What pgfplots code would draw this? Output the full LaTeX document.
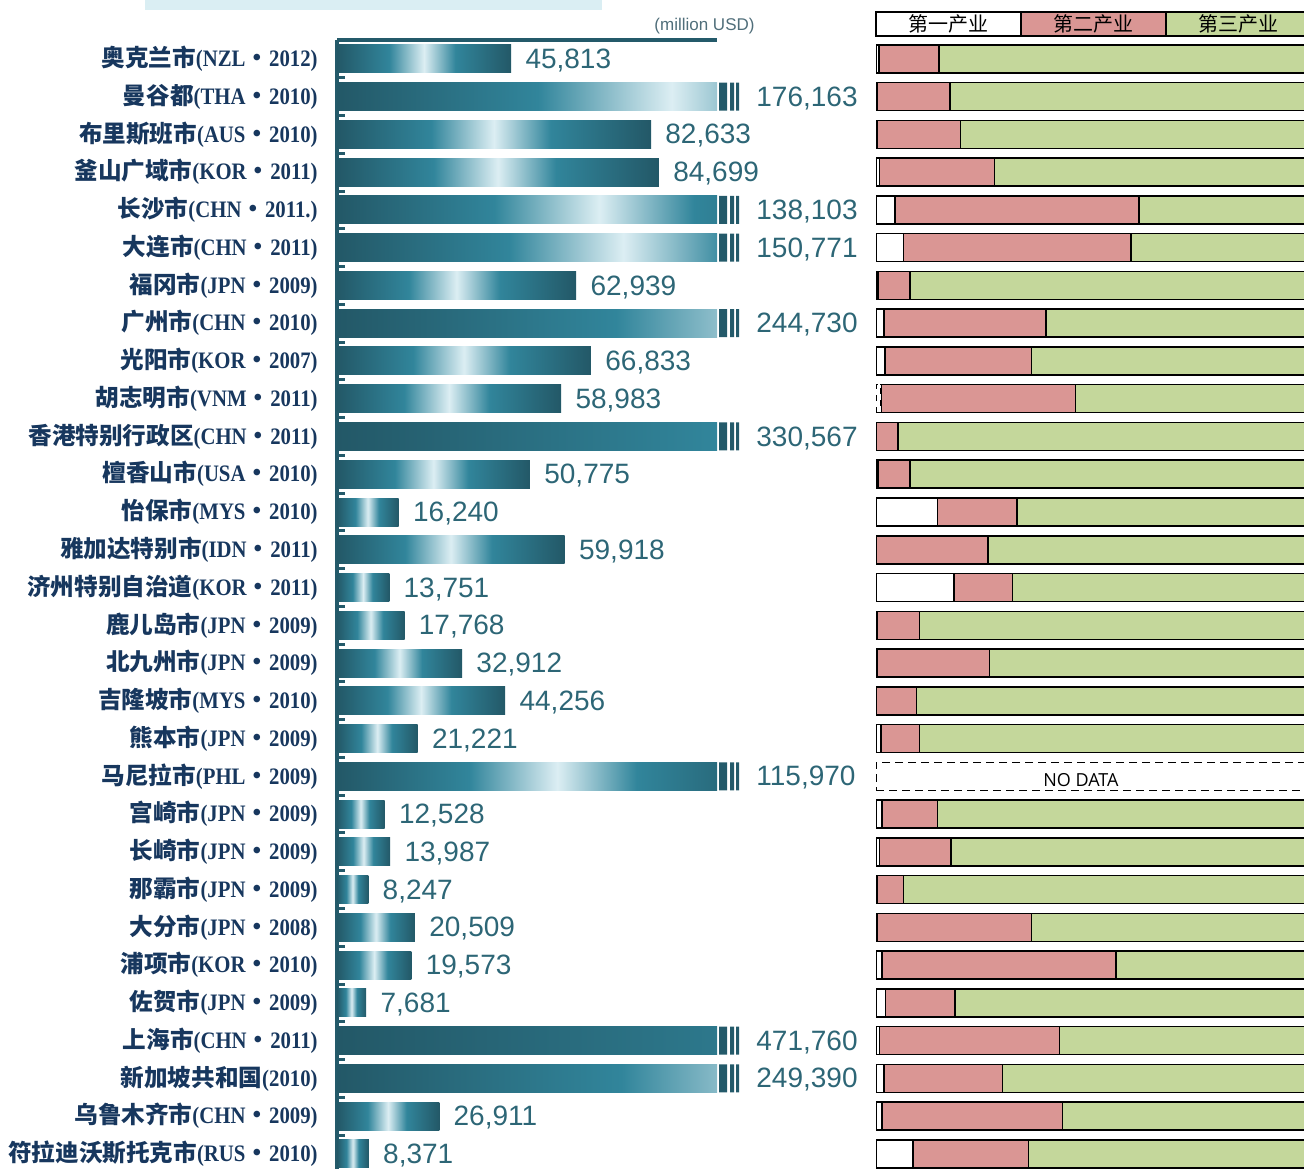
\documentclass[border=0pt]{standalone}
\usepackage{pgfplots}
\pgfplotsset{compat=1.18}
\usepackage{pgfplotstable}
\usepackage{fontspec}
\setmainfont{Liberation Sans}
\newfontfamily\cjk{Noto Sans CJK SC}
\newfontfamily\latc[FakeStretch=0.88]{Liberation Serif}
\newfontfamily\nodata{Open Sans}

\definecolor{bdark}{RGB}{35,88,103}
\definecolor{bteal}{RGB}{49,133,155}
\definecolor{blight}{RGB}{220,238,243}
\definecolor{axteal}{RGB}{36,90,106}
\definecolor{valc}{RGB}{45,102,118}
\definecolor{labc}{RGB}{23,55,94}
\definecolor{pinkc}{RGB}{218,150,148}
\definecolor{greenc}{RGB}{196,215,155}
\definecolor{titlebg}{RGB}{218,238,243}
\definecolor{unitc}{RGB}{80,110,122}

\pgfdeclarehorizontalshading{barshade}{100bp}{color(0bp)=(bdark); color(25bp)=(bdark); color(40bp)=(bteal); color(50bp)=(blight); color(59bp)=(bteal); color(75bp)=(bdark); color(100bp)=(bdark)}

\pgfdeclareplotmark{brk}{%
  \pgfpathrectangle{\pgfpoint{1pt}{-7pt}}{\pgfpoint{4pt}{14pt}}%
  \pgfpathrectangle{\pgfpoint{6.5pt}{-7pt}}{\pgfpoint{2pt}{14pt}}%
  \pgfpathrectangle{\pgfpoint{9.5pt}{-7pt}}{\pgfpoint{1.5pt}{14pt}}%
  \pgfusepathqfill}

\newcommand\CJ[1]{{\cjk #1}}
\newcommand\LT[1]{{\latc #1}}
\newcommand\lab[3]{\CJ{#1}\LT{(#2}\CJ{・}\LT{#3)}}

\pgfplotstableread{
row v f fd s t
0 45813 0.7 0 13.8 85.5
1 176163 0.3 0 16.7 83.0
2 82633 0.3 0 19.1 80.6
3 84699 0.8 0 26.4 72.8
4 138103 4.4 0 56.0 39.6
5 150771 6.3 0 52.3 41.4
6 62939 0.4 0 7.4 92.2
7 244730 1.8 0 37.3 60.9
8 66833 2.1 0 33.7 64.2
9 58983 0 1.1 44.8 54.1
10 330567 0 0 5.1 94.9
11 50775 0.4 0 7.4 92.2
12 16240 14.1 0 18.3 67.6
13 59918 0 0 25.7 74.3
14 13751 17.9 0 13.5 68.6
15 17768 0.3 0 9.7 90.0
16 32912 0.3 0 25.8 73.9
17 44256 0 0 9.3 90.7
18 21221 1.1 0 8.9 90.0
19 115970 0 0 0 0
20 12528 1.4 0 12.7 85.9
21 13987 0.8 0 16.4 82.8
22 8247 0.3 0 6.0 93.7
23 20509 0.3 0 35.5 64.2
24 19573 1.4 0 53.8 44.8
25 7681 2.2 0 16.0 81.8
26 471760 0.8 0 41.4 57.8
27 249390 1.8 0 27.3 70.9
28 26911 1.4 0 41.5 57.1
29 8371 8.5 0 26.5 65.0
}\data

\begin{document}
\begin{tikzpicture}
\useasboundingbox (0,0) rectangle (652pt,584.5pt);
\fill[titlebg] (72.5pt,579.5pt) rectangle (301pt,584.5pt);

% ---- bars ----
\begin{axis}[
  at={(168.5pt,564.5pt)}, anchor=north west, scale only axis,
  width=190pt, height=564.5pt,
  xmin=0, xmax=100000, ymin=-0.5, ymax=29.4, y dir=reverse,
  axis x line*=top, axis y line*=left,
  axis line style={line width=2pt, axteal},
  xtick=\empty,
  ytick={0,...,29},
  yticklabels={
    \lab{奥克兰市}{NZL}{2012},
    \lab{曼谷都}{THA}{2010},
    \lab{布里斯班市}{AUS}{2010},
    \lab{釜山广域市}{KOR}{2011},
    \lab{长沙市}{CHN}{2011.},
    \lab{大连市}{CHN}{2011},
    \lab{福冈市}{JPN}{2009},
    \lab{广州市}{CHN}{2010},
    \lab{光阳市}{KOR}{2007},
    \lab{胡志明市}{VNM}{2011},
    \lab{香港特别行政区}{CHN}{2011},
    \lab{檀香山市}{USA}{2010},
    \lab{怡保市}{MYS}{2010},
    \lab{雅加达特别市}{IDN}{2011},
    \lab{济州特别自治道}{KOR}{2011},
    \lab{鹿儿岛市}{JPN}{2009},
    \lab{北九州市}{JPN}{2009},
    \lab{吉隆坡市}{MYS}{2010},
    \lab{熊本市}{JPN}{2009},
    \lab{马尼拉市}{PHL}{2009},
    \lab{宫崎市}{JPN}{2009},
    \lab{长崎市}{JPN}{2009},
    \lab{那霸市}{JPN}{2009},
    \lab{大分市}{JPN}{2008},
    \lab{浦项市}{KOR}{2010},
    \lab{佐贺市}{JPN}{2009},
    \lab{上海市}{CHN}{2011},
    \CJ{新加坡共和国}\LT{(2010)},
    \lab{乌鲁木齐市}{CHN}{2009},
    \lab{符拉迪沃斯托克市}{RUS}{2010}},
  major tick length=0pt,
  extra y ticks={0.5,1.5,...,28.5},
  extra y tick labels={},
  extra y tick style={major tick length=4pt, tick align=inside, tick style={line width=1.5pt, axteal}},
  yticklabel style={inner sep=0pt, xshift=-9.5pt, font=\bfseries\fontsize{11.8}{12}\selectfont, text=labc},
]
\pgfplotsinvokeforeach{0,...,29}{
  \addplot[xbar, bar width=14pt, draw=none, shade, shading=barshade,
    y filter/.expression={abs(y-#1)<0.1 ? y : nan}] table[x=v, y=row] {\data};
}
\end{axis}

% ---- value labels and break marks ----
\begin{axis}[
  at={(168.5pt,564.5pt)}, anchor=north west, scale only axis,
  width=190pt, height=564.5pt,
  xmin=0, xmax=100000, ymin=-0.5, ymax=29.4, y dir=reverse,
  hide axis, clip=false,
]
\addplot[draw=none, mark=none, point meta=explicit,
  x filter/.expression={x>100000 ? nan : x},
  nodes near coords={\pgfmathprintnumber[fixed,precision=0,1000 sep={,},assume math mode=true]{\pgfplotspointmeta}},
  nodes near coords align=horizontal,
  every node near coord/.append style={anchor=west, inner sep=0pt, xshift=7pt, yshift=-0.8pt, font=\fontsize{14}{14}\selectfont, text=valc}]
  table[x=v, y=row, meta=v] {\data};
\addplot[only marks, mark=brk, mark options={fill=axteal}, point meta=explicit,
  x filter/.expression={x>100000 ? 100000 : nan},
  nodes near coords={\pgfmathprintnumber[fixed,precision=0,1000 sep={,},assume math mode=true]{\pgfplotspointmeta}},
  nodes near coords align=horizontal,
  every node near coord/.append style={anchor=west, inner sep=0pt, xshift=19.5pt, yshift=-0.8pt, font=\fontsize{14}{14}\selectfont, text=valc}]
  table[x=v, y=row, meta=v] {\data};
\end{axis}

% ---- industry shares ----
\begin{axis}[
  at={(438pt,564.5pt)}, anchor=north west, scale only axis,
  width=217.5pt, height=564.5pt,
  xmin=0, xmax=100, ymin=-0.5, ymax=29.4, y dir=reverse,
  hide axis, xbar stacked, bar width=14pt,
  skip coords between index={19}{20},
]
\addplot[fill=white, draw=black, line width=0.75pt] table[x=f, y=row] {\data};
\addplot[fill=white, draw=black, dashed, line width=0.75pt] table[x=fd, y=row] {\data};
\addplot[fill=pinkc, draw=black, line width=0.75pt] table[x=s, y=row] {\data};
\addplot[fill=greenc, draw=black, line width=0.75pt] table[x=t, y=row] {\data};
\end{axis}

% ---- no data ----
\begin{axis}[
  at={(438pt,564.5pt)}, anchor=north west, scale only axis,
  width=217.5pt, height=564.5pt,
  xmin=0, xmax=100, ymin=-0.5, ymax=29.4, y dir=reverse,
  hide axis,
]
\addplot[xbar, bar width=14pt, fill=white, draw=black, line width=0.75pt, dash pattern=on 4pt off 2.5pt] coordinates {(100,19)};
\node[font=\nodata\fontsize{9}{9}\selectfont, inner sep=0pt] at (axis cs:47.1,19.1) {NO DATA};
\end{axis}

% ---- header ----
\node[font=\fontsize{8.5}{9}\selectfont, text=unitc] at (352.25pt,571.5pt) {(million USD)};
\node[draw=black, line width=0.75pt, fill=white, minimum width=72.5pt, minimum height=12pt, inner sep=0pt, font=\cjk\fontsize{10}{10}\selectfont] at (474.25pt,572.5pt) {第一产业};
\node[draw=black, line width=0.75pt, fill=pinkc, minimum width=72.5pt, minimum height=12pt, inner sep=0pt, font=\cjk\fontsize{10}{10}\selectfont] at (546.75pt,572.5pt) {第二产业};
\node[draw=black, line width=0.75pt, fill=greenc, minimum width=72.5pt, minimum height=12pt, inner sep=0pt, font=\cjk\fontsize{10}{10}\selectfont] at (619.25pt,572.5pt) {第三产业};
\end{tikzpicture}
\end{document}
